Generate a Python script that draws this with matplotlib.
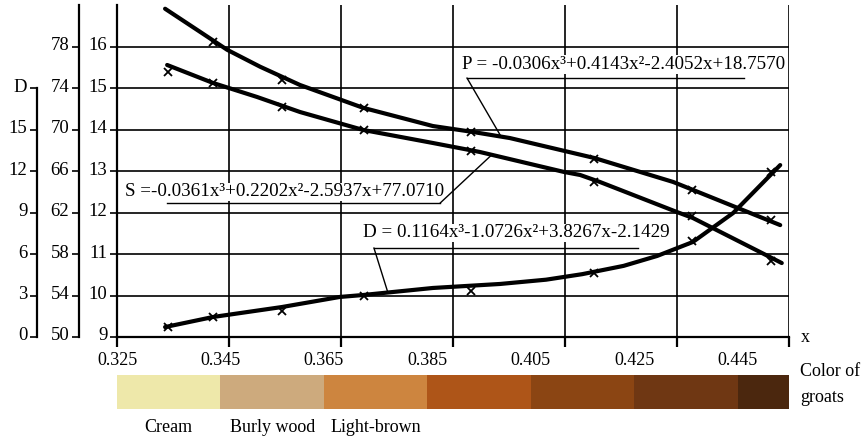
import numpy as np
import matplotlib
matplotlib.use('Agg')
import matplotlib.pyplot as plt
from matplotlib.transforms import ScaledTranslation, blended_transform_factory

plt.rcParams['font.family'] = ['Liberation Serif', 'DejaVu Serif']
plt.rcParams['font.size'] = 13

# x positions of the measured points (shared by all three series)
mark_x = [0.3349, 0.3436, 0.3569, 0.3728, 0.3935, 0.4173, 0.4362, 0.4515]

# P (inner scale, 9-16): measured points and fitted line
P_marks = [16.12, 15.20, 14.53, 13.95, 13.30, 12.55, 11.82]   # first point is off the top
P_line_x = [0.3343, 0.3411, 0.3463, 0.3527, 0.3604, 0.3726, 0.3861, 0.3937, 0.4010,
            0.4173, 0.4326, 0.4364, 0.4533]
P_line = [16.92, 16.36, 15.93, 15.52, 15.08, 14.53, 14.09, 13.95, 13.80,
          13.32, 12.74, 12.55, 11.70]

# S (middle scale, 50-78)
S_marks = [75.59, 74.52, 72.21, 69.99, 67.96, 64.97, 61.68, 57.34]
S_line_x = [0.3347, 0.3436, 0.3521, 0.3604, 0.3726, 0.3861, 0.3952, 0.4115, 0.4146,
            0.4184, 0.4333, 0.4364, 0.4536]
S_line = [76.26, 74.52, 73.17, 71.72, 69.99, 68.73, 67.86, 65.93, 65.64,
          64.97, 62.07, 61.49, 57.14]

# D (outer scale, 0-15)
D_marks = [0.72, 1.45, 1.88, 2.97, 3.33, 4.63, 6.95, 11.95]
D_line_x = [0.3343, 0.3436, 0.3569, 0.3681, 0.3726, 0.3861, 0.3991, 0.4080, 0.4150,
            0.4230, 0.4295, 0.4364, 0.4442, 0.4533]
D_line = [0.72, 1.45, 2.17, 2.90, 3.04, 3.55, 3.84, 4.15, 4.55,
          5.15, 5.87, 6.88, 8.98, 12.45]

P_eq = 'P = -0.0306x³+0.4143x²-2.4052x+18.7570'
S_eq = 'S =-0.0361x³+0.2202x²-2.5937x+77.0710'
D_eq = 'D = 0.1164x³-1.0726x²+3.8267x-2.1429'

color_edges = [0.325, 0.345, 0.365, 0.385, 0.405, 0.425, 0.445, 0.455]
groat_colors = ['#EEE8AA', '#CDAA7D', '#CD853F', '#AE5518', '#8B4513', '#6F3713', '#4B270E']
color_names = ['Cream', 'Burly wood', 'Light-brown']

fig = plt.figure(figsize=(8.67, 4.38), dpi=100)
ax = fig.add_axes([117/867, 1-337/438, 672/867, 332/438])
ax.set_xlim(0.325, 0.455)
ax.set_ylim(9, 17.01)
ax.set_xticks(np.linspace(0.325, 0.455, 7))
ax.set_xticklabels([])
ax.set_yticks(range(9, 17))
ax.grid(True, color='black', lw=1.2)
ax.set_axisbelow(True)
ax.spines['top'].set_visible(False)
ax.spines['right'].set_visible(False)
ax.spines['left'].set_linewidth(1.6)
ax.spines['bottom'].set_linewidth(1.6)
ax.tick_params(axis='x', length=7, width=1.6, direction='out')
ax.tick_params(axis='y', length=5, width=1.2, pad=2, labelsize=13.5)

ax_s = ax.twinx()
ax_s.set_ylim(50, 82.05)
ax_s.set_yticks(range(50, 79, 4))
ax_d = ax.twinx()
ax_d.set_ylim(0, 24.04)
ax_d.set_yticks(range(0, 19, 3))
ax_d.set_yticklabels(['0', '3', '6', '9', '12', '15', 'D'])
for a, off in [(ax_s, 27.4), (ax_d, 57.6)]:
    a.yaxis.set_ticks_position('left')
    for s in ['top', 'right', 'bottom']:
        a.spines[s].set_visible(False)
    a.spines['left'].set_position(('outward', off))
    a.spines['left'].set_linewidth(1.6)
    a.tick_params(axis='y', length=5, width=1.2, pad=2, labelsize=13.5)
ax_d.spines['left'].set_bounds(0, 18)

lift = ScaledTranslation(0, 3/100, fig.dpi_scale_trans)
for a in [ax, ax_s, ax_d]:
    for lab in a.get_yticklabels():
        lab.set_transform(lab.get_transform() + lift)

ax.plot(P_line_x, P_line, color='black', lw=3, solid_capstyle='round', clip_on=False)
ax.plot(mark_x[1:], P_marks, 'x', color='black', ms=6, mew=1.3)
ax_s.plot(S_line_x, S_line, color='black', lw=3, solid_capstyle='round')
ax_s.plot(mark_x, S_marks, 'x', color='black', ms=6, mew=1.3)
ax_d.plot(D_line_x, D_line, color='black', lw=3, solid_capstyle='round')
ax_d.plot(mark_x, D_marks, 'x', color='black', ms=6, mew=1.3)

# callouts: text, underline and leader to the curve
def callout(text, tx, ty, u0, u1, uy, corner, target_ax, cx, cy, at):
    ax_d.text(tx, ty, text, transform=ax.transData, ha='center', va='center', zorder=6,
              fontsize=13.7, bbox=dict(facecolor='white', edgecolor='none', pad=0.5))
    ax_d.plot([u0, u1], [uy, uy], color='black', lw=1, transform=ax.transData, zorder=7)
    ax_d.annotate('', xy=(at, np.interp(at, cx, cy)), xycoords=target_ax.transData,
                  xytext=(corner, uy), textcoords=ax.transData,
                  arrowprops=dict(arrowstyle='-', lw=1, color='black', shrinkA=0, shrinkB=0),
                  zorder=7)

callout(P_eq, 0.4230, 15.57, 0.3927, 0.4463, 15.25, 0.3927, ax, P_line_x, P_line, 0.3993)
callout(S_eq, 0.3575, 12.50, 0.3347, 0.3875, 12.23, 0.3875, ax_s, S_line_x, S_line, 0.3975)
callout(D_eq, 0.4022, 11.51, 0.3747, 0.4258, 11.15, 0.3747, ax_d, D_line_x, D_line, 0.3774)

fig.text(805/867, 1-338/438, 'x', ha='center', va='center')

# colour strip of groats
axb = fig.add_axes([117/867, 1-409/438, 675/867, 34/438])
axb.set_xlim(0.325, 0.4555)
axb.set_ylim(0, 1)
for i in range(len(groat_colors)):
    axb.axvspan(color_edges[i], color_edges[i+1], color=groat_colors[i], lw=0)
for s in axb.spines.values():
    s.set_visible(False)
axb.set_yticks([])
axb.xaxis.tick_top()
axb.set_xticks(color_edges[:-1])
axb.set_xticklabels(['%.3f' % v for v in color_edges[:-1]])
axb.tick_params(axis='x', length=0, pad=4)
tr = blended_transform_factory(axb.transData, axb.transAxes)
for i, name in enumerate(color_names):
    axb.text((color_edges[i] + color_edges[i+1]) / 2, -0.53, name, transform=tr,
             ha='center', va='center')

fig.text(800/867, 1-372/438, 'Color of', ha='left', va='center')
fig.text(800/867, 1-398/438, 'groats', ha='left', va='center')

fig.savefig('out.png', dpi=100)
